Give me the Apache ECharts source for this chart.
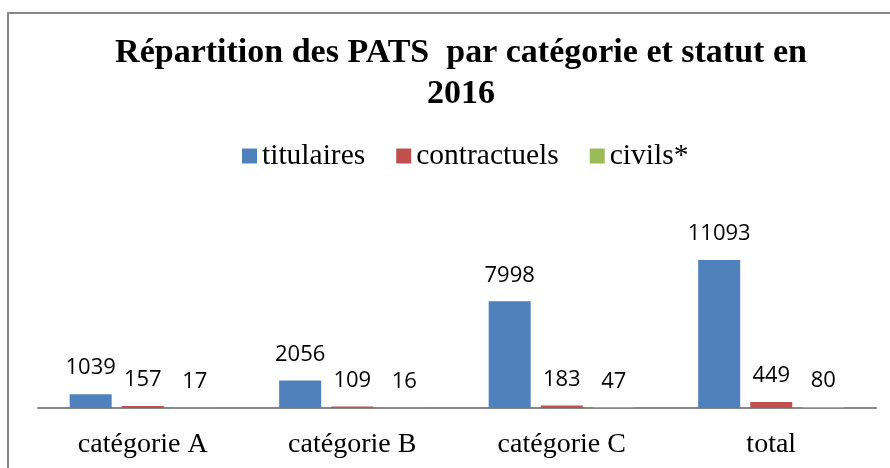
<!DOCTYPE html>
<html>
<head>
<meta charset="utf-8">
<script src="https://cdn.jsdelivr.net/npm/echarts@6/dist/echarts.min.js"></script>
<style>
  html, body { margin: 0; padding: 0; background: #fff; }
  #main { width: 890px; height: 468px; }
</style>
</head>
<body>
<div id="main"></div>
<script>
// données
var categories = ['catégorie A', 'catégorie B', 'catégorie C', 'total'];
var titulaires = [1039, 2056, 7998, 11093];
var contractuels = [157, 109, 183, 449];
var civils = [17, 16, 47, 80];

var serif = '"Liberation Serif", "Times New Roman", serif';

var chart = echarts.init(document.getElementById('main'), null, { renderer: 'canvas' });

function barSerie(name, data) {
  return {
    name: name,
    type: 'bar',
    data: data,
    barWidth: 42,
    barGap: '24%',
    label: {
      show: true,
      position: 'top',
      distance: 15,
      color: '#000',
      fontFamily: '"Open Sans", sans-serif',
      fontSize: 22
    }
  };
}

var option = {
  backgroundColor: '#fff',
  animation: false,
  color: ['#4F81BD', '#C0504D', '#9BBB59'],
  title: {
    text: 'Répartition des PATS  par catégorie et statut en\n2016',
    left: 456,
    textAlign: 'center',
    top: 28,
    textStyle: {
      fontFamily: serif,
      fontWeight: 'bold',
      fontSize: 34,
      lineHeight: 41,
      color: '#000'
    }
  },
  legend: {
    top: 136,
    left: 237,
    icon: 'rect',
    itemWidth: 15,
    itemHeight: 15,
    itemGap: 31,
    textStyle: {
      fontFamily: serif,
      fontSize: 29.5,
      color: '#000'
    },
    data: ['titulaires', 'contractuels', 'civils*']
  },
  grid: {
    left: 38,
    right: 14,
    top: 248,
    bottom: 60
  },
  xAxis: {
    type: 'category',
    data: categories,
    axisLine: { lineStyle: { color: '#888', width: 2 } },
    axisTick: { show: false },
    axisLabel: {
      margin: 23,
      fontFamily: serif,
      fontSize: 28,
      color: '#000'
    }
  },
  yAxis: {
    type: 'value',
    min: 0,
    max: 12000,
    show: false,
    splitLine: { show: false }
  },
  graphic: [
    {
      type: 'polyline',
      shape: { points: [[8, 468], [8, 13], [890, 13]] },
      style: { stroke: '#888', lineWidth: 2, fill: null }
    }
  ],
  series: [
    barSerie('titulaires', titulaires),
    barSerie('contractuels', contractuels),
    barSerie('civils*', civils)
  ]
};

chart.setOption(option);
</script>
</body>
</html>
